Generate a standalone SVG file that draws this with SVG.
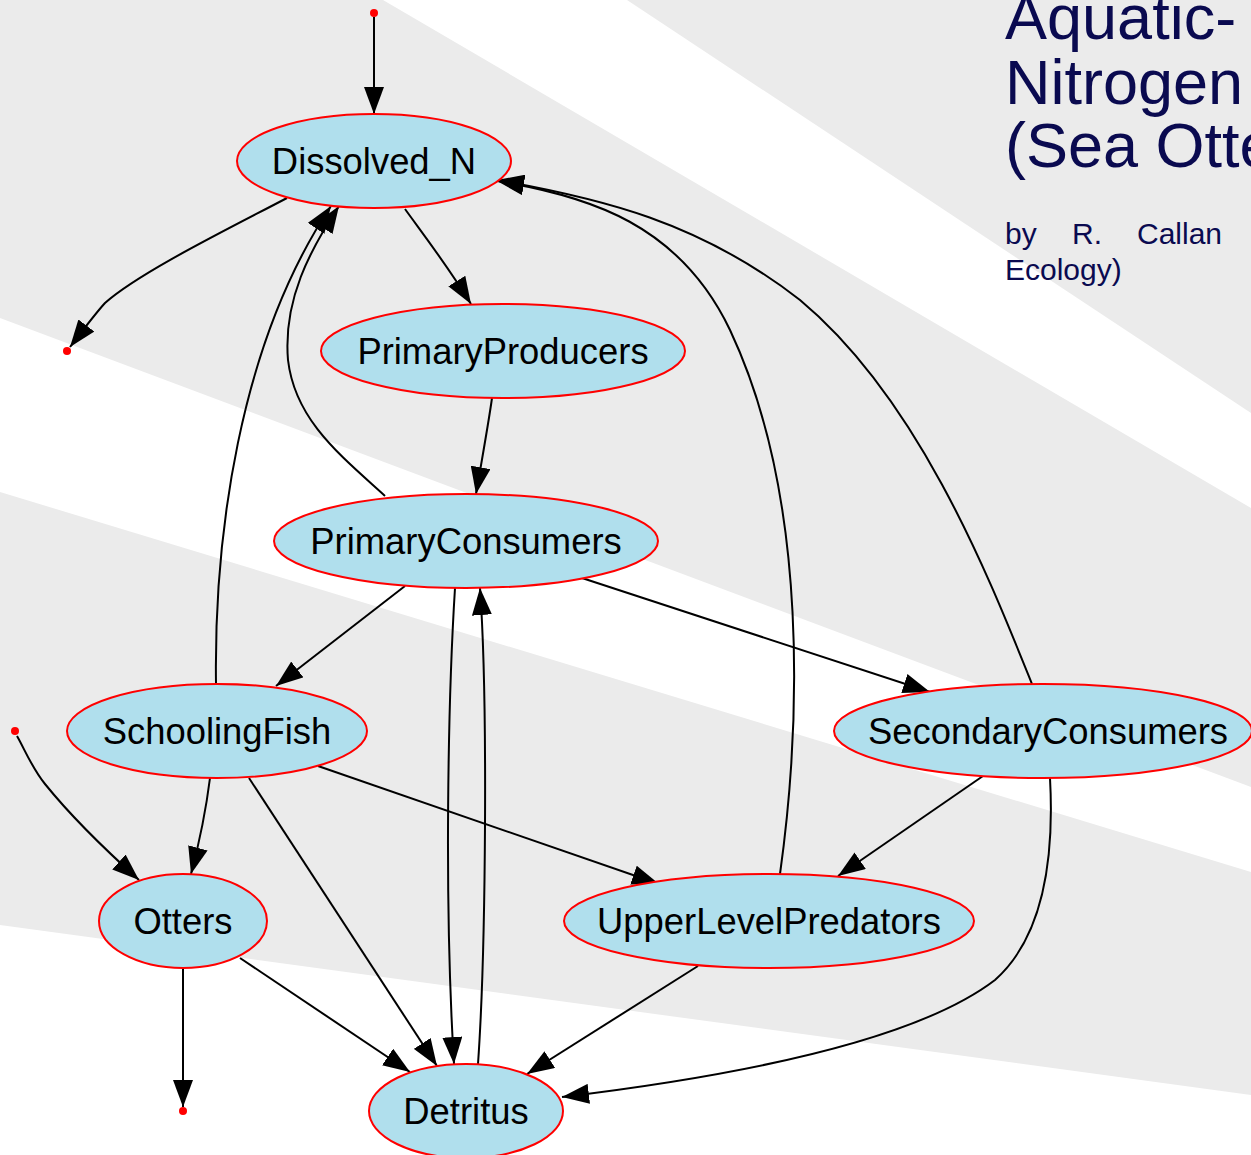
<svg xmlns="http://www.w3.org/2000/svg" width="1251" height="1155" viewBox="0 0 1251 1155">
<defs>
<style>
.bg{fill:#ebebeb;stroke:none}
.node ellipse{fill:#b0dfed;stroke:#ff0000;stroke-width:2}
.node text{font-family:"Liberation Sans",Arial,sans-serif;font-size:36.4px;fill:#000;text-anchor:middle}
.pt{fill:#ff0000}
.edge{fill:none;stroke:#000;stroke-width:2;marker-end:url(#arr)}
.title{font-family:"Liberation Sans",Arial,sans-serif;fill:#0a0a50}
</style>
<marker id="arr" markerUnits="userSpaceOnUse" markerWidth="28" markerHeight="20" refX="27" refY="10" orient="auto" viewBox="0 0 28 20">
<path d="M0,0 L27,10 L0,20 z" fill="#000"/>
</marker>
</defs>
<rect width="1251" height="1155" fill="#ffffff"/>
<g id="background">
<polygon class="bg" points="0,0 383,0 1251,508 1251,787 0,318"/>
<polygon class="bg" points="627,0 1251,0 1251,413"/>
<polygon class="bg" points="0,492 1251,872 1251,1095 0,925"/>
</g>
<g id="title">
<text class="title" x="1005" y="39" font-size="63">Aquatic-</text>
<text class="title" x="1005" y="104" font-size="63">Nitrogen</text>
<text class="title" x="1005" y="167" font-size="63">(Sea Otte</text>
<text class="title" y="244" font-size="30"><tspan x="1005">by</tspan><tspan x="1072">R.</tspan><tspan x="1137">Callan</tspan></text>
<text class="title" x="1005" y="280" font-size="30">Ecology)</text>
</g>
<g id="connectors">
<path class="edge" d="M374,17 L374,114"/>
<path class="edge" d="M287,198 C230,228 140,272 105,303 C95,314 86,326 70,347"/>
<path class="edge" d="M405,209 C420,230 445,262 471,304"/>
<path class="edge" d="M492,398 C489,420 484,448 476,494"/>
<path class="edge" d="M385,496 C340,455 295,420 288,360 C283,300 310,250 339,206"/>
<path class="edge" d="M216,684 C214,540 238,345 331,206"/>
<path class="edge" d="M780,874 C800,730 810,500 730,330 C680,225 590,196 497,181"/>
<path class="edge" d="M1032,684 C990,580 920,400 800,300 C700,222 600,198 497,180"/>
<path class="edge" d="M405,586 L276,686"/>
<path class="edge" d="M582,578 L930,692"/>
<path class="edge" d="M455,588 C448,700 444,900 454,1064"/>
<path class="edge" d="M478,1064 C486,950 488,700 480,588"/>
<path class="edge" d="M210,778 C206,810 200,840 191,874"/>
<path class="edge" d="M249,778 L437,1066"/>
<path class="edge" d="M318,766 L659,884"/>
<path class="edge" d="M17,736 C25,750 32,768 45,784 C70,815 100,845 139,880"/>
<path class="edge" d="M183,968 L183,1107"/>
<path class="edge" d="M240,958 L410,1072"/>
<path class="edge" d="M983,776 L838,876"/>
<path class="edge" d="M1050,778 C1055,870 1040,940 995,980 C910,1045 720,1078 562,1097"/>
<path class="edge" d="M698,966 L527,1074"/>
</g>
<g id="point1"><circle class="pt" cx="374" cy="13" r="4"/></g>
<g id="point2"><circle class="pt" cx="67" cy="351" r="4"/></g>
<g id="point3"><circle class="pt" cx="15" cy="731" r="4"/></g>
<g id="point4"><circle class="pt" cx="183" cy="1111" r="4"/></g>
<g id="Dissolved_N" class="node"><ellipse cx="374" cy="161" rx="137" ry="47"/><text x="374" y="174">Dissolved_N</text></g>
<g id="PrimaryProducers" class="node"><ellipse cx="503" cy="351" rx="182" ry="47"/><text x="503" y="364">PrimaryProducers</text></g>
<g id="PrimaryConsumers" class="node"><ellipse cx="466" cy="541" rx="192" ry="47"/><text x="466" y="554">PrimaryConsumers</text></g>
<g id="SchoolingFish" class="node"><ellipse cx="217" cy="731" rx="150" ry="47"/><text x="217" y="744">SchoolingFish</text></g>
<g id="SecondaryConsumers" class="node"><ellipse cx="1043" cy="731" rx="209" ry="47"/><text x="1048" y="744">SecondaryConsumers</text></g>
<g id="Otters" class="node"><ellipse cx="183" cy="921" rx="84" ry="47"/><text x="183" y="934">Otters</text></g>
<g id="UpperLevelPredators" class="node"><ellipse cx="769" cy="921" rx="205" ry="47"/><text x="769" y="934">UpperLevelPredators</text></g>
<g id="Detritus" class="node"><ellipse cx="466" cy="1111" rx="97" ry="47"/><text x="466" y="1124">Detritus</text></g>
</svg>
